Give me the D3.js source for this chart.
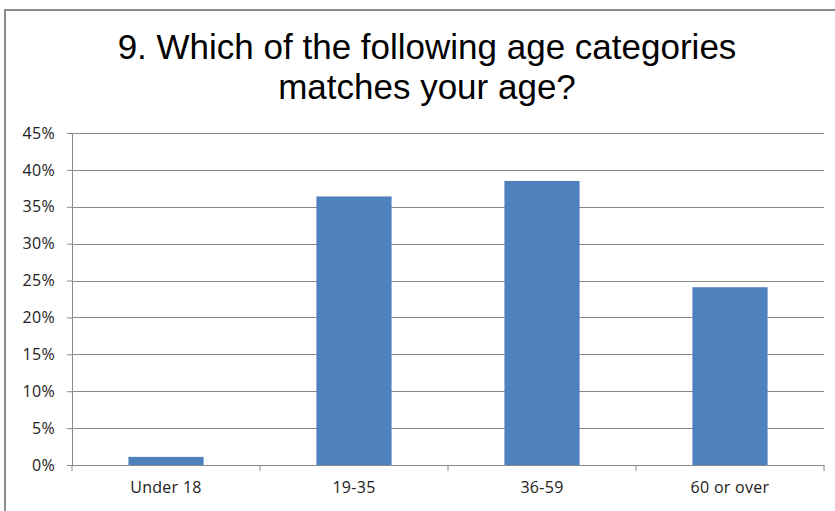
<!DOCTYPE html>
<html lang="en">
<head>
<meta charset="utf-8">
<title>Age categories</title>
<script src="https://d3js.org/d3.v7.min.js"></script>
<style>
  body { margin: 0; background: #fff; }
  svg { display: block; }
  .tick text { font-family: "Open Sans", Lato, sans-serif; font-size: 16px; fill: #222; letter-spacing: 0.3px; }
  .title { font-family: "Liberation Sans", Arial, sans-serif; font-size: 35px; fill: #000; }
</style>
</head>
<body>
<script>
// data
var categories = ["Under 18", "19-35", "36-59", "60 or over"];
var values = [0.011, 0.364, 0.385, 0.241];
var yTicks = [0, 0.05, 0.10, 0.15, 0.20, 0.25, 0.30, 0.35, 0.40, 0.45];
var titleLines = ["9. Which of the following age categories", "matches your age?"];

var w = 835, h = 511;
var plotLeft = 72, plotRight = 824, plotTop = 133, plotBottom = 465;

var svg = d3.select("body").append("svg")
    .attr("width", w)
    .attr("height", h);

// chart frame
svg.append("path")
    .attr("d", "M5," + h + "V10H" + w)
    .attr("fill", "none")
    .attr("stroke", "#8c8c8c")
    .attr("stroke-width", 2);

// title
svg.selectAll(".title")
    .data(titleLines)
    .enter().append("text")
    .attr("class", "title")
    .attr("x", 427)
    .attr("y", function (d, i) { return 59 + i * 40; })
    .attr("text-anchor", "middle")
    .text(function (d) { return d; });

var x = d3.scaleBand().domain(categories).range([plotLeft, plotRight]).padding(0);
var y = d3.scaleLinear().domain([0, 0.45]).range([plotBottom, plotTop]);

// gridlines
svg.append("g")
    .selectAll("line")
    .data(yTicks.slice(1))
    .enter().append("line")
    .attr("x1", plotLeft).attr("x2", plotRight)
    .attr("y1", function (d) { return Math.round(y(d)) + 0.5; })
    .attr("y2", function (d) { return Math.round(y(d)) + 0.5; })
    .attr("stroke", "#8a8a8a")
    .attr("stroke-width", 1);

// y axis
var yAxis = svg.append("g")
    .attr("transform", "translate(" + plotLeft + ",0)")
    .call(d3.axisLeft(y).tickValues(yTicks).tickFormat(d3.format(".0%")).tickSize(5).tickPadding(12));
yAxis.selectAll("line, path").attr("stroke", "#8a8a8a");

// bars
var barW = x.bandwidth() * 0.4;
svg.append("g")
    .selectAll("rect")
    .data(values)
    .enter().append("rect")
    .attr("x", function (d, i) { return x(categories[i]) + (x.bandwidth() - barW) / 2; })
    .attr("y", function (d) { return y(d); })
    .attr("width", barW)
    .attr("height", function (d) { return plotBottom - y(d); })
    .attr("fill", "#4f81bd");

// x axis
var xAxis = svg.append("g")
    .attr("transform", "translate(0," + plotBottom + ")")
    .call(d3.axisBottom(x).tickSize(0).tickPadding(17));
xAxis.select(".domain").attr("stroke", "#8a8a8a");
xAxis.selectAll(".sep")
    .data(d3.range(categories.length + 1))
    .enter().append("line")
    .attr("x1", function (d) { return plotLeft + d * x.bandwidth(); })
    .attr("x2", function (d) { return plotLeft + d * x.bandwidth(); })
    .attr("y1", 0).attr("y2", 6)
    .attr("stroke", "#8a8a8a");
</script>
</body>
</html>
